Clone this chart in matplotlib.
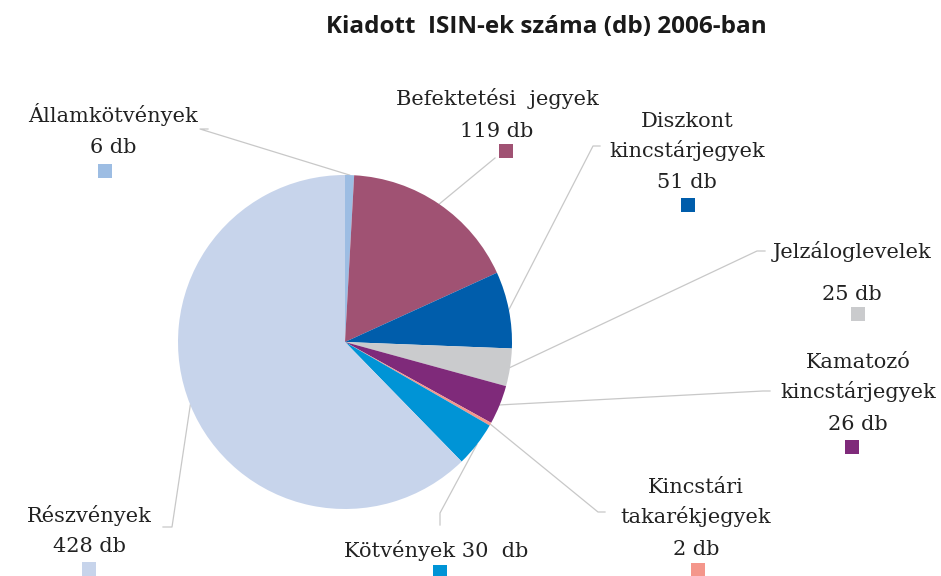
import numpy as np
import matplotlib
matplotlib.use('Agg')
import matplotlib.pyplot as plt

# adatok
categories = ['Államkötvények', 'Befektetési jegyek', 'Diszkont kincstárjegyek',
              'Jelzáloglevelek', 'Kamatozó kincstárjegyek', 'Kincstári takarékjegyek',
              'Kötvények', 'Részvények']
values = [6, 119, 51, 25, 26, 2, 30, 428]
colors = ['#9dbde3', '#a05273', '#005dab', '#cacbcd', '#7f2a7a', '#f4968b', '#0094d6', '#c7d4eb']
label_lines = [['Államkötvények', '6 db'],
               ['Befektetési  jegyek', '119 db'],
               ['Diszkont', 'kincstárjegyek', '51 db'],
               ['Jelzáloglevelek', '25 db'],
               ['Kamatozó', 'kincstárjegyek', '26 db'],
               ['Kincstári', 'takarékjegyek', '2 db'],
               ['Kötvények 30  db'],
               ['Részvények', '428 db']]

W, H = 941, 576
fig = plt.figure(figsize=(W / 100, H / 100), dpi=100)
ax = fig.add_axes([0, 0, 1, 1])

cx, cy, R = 345, H - 342, 167
wedges, _ = ax.pie(values, colors=colors, startangle=90, counterclock=False,
                   center=(cx, cy), radius=R, frame=True, wedgeprops=dict(linewidth=0))
ax.set_xlim(0, W)
ax.set_ylim(0, H)
ax.set_aspect('equal')
ax.axis('off')

font = 'DejaVu Serif'
fs = 15
# szöveg közép x, sorok alapvonala (px), jelölő közép (px), vezetővonal pontjai (px)
layout = [
    (113, [122, 153], (105, 171), [(200, 129), (208, 129)]),
    (497, [105, 137], (506, 151), [(495, 158)]),
    (687, [127, 157, 188], (688, 205), [(593, 146), (600, 146)]),
    (852, [258, 300], (858, 314), [(757, 251), (765, 251)]),
    (858, [368, 398, 430], (852, 447), [(763, 391), (770, 391)]),
    (696, [493, 523, 555], (698, 570), [(598, 512), (605, 512)]),
    (436, [557], (440, 572), [(440, 513), (440, 525)]),
    (89, [522, 552], (89, 569), [(172, 527), (163, 527)]),
]

for w, lines, (tx, bases, mpos, pts) in zip(wedges, label_lines, layout):
    ang = np.deg2rad((w.theta1 + w.theta2) / 2)
    sx, sy = cx + R * np.cos(ang), cy + R * np.sin(ang)
    xs = [sx] + [p[0] for p in pts]
    ys = [sy] + [H - p[1] for p in pts]
    ax.plot(xs, ys, color='#c8c8c8', lw=0.9, zorder=0)
    for line, b in zip(lines, bases):
        ax.text(tx, H - b, line, ha='center', va='baseline', fontsize=fs,
                family=font, color='#222222')
    ax.add_patch(plt.Rectangle((mpos[0] - 7, H - mpos[1] - 7), 14, 14,
                               color=w.get_facecolor(), lw=0))

fig.text(546 / W, 1 - 33 / H, 'Kiadott  ISIN-ek száma (db) 2006-ban', ha='center', va='baseline',
         fontsize=17.5, fontweight='bold', family='Open Sans', color='#1a1a1a')

fig.savefig('out.png', dpi=100)
